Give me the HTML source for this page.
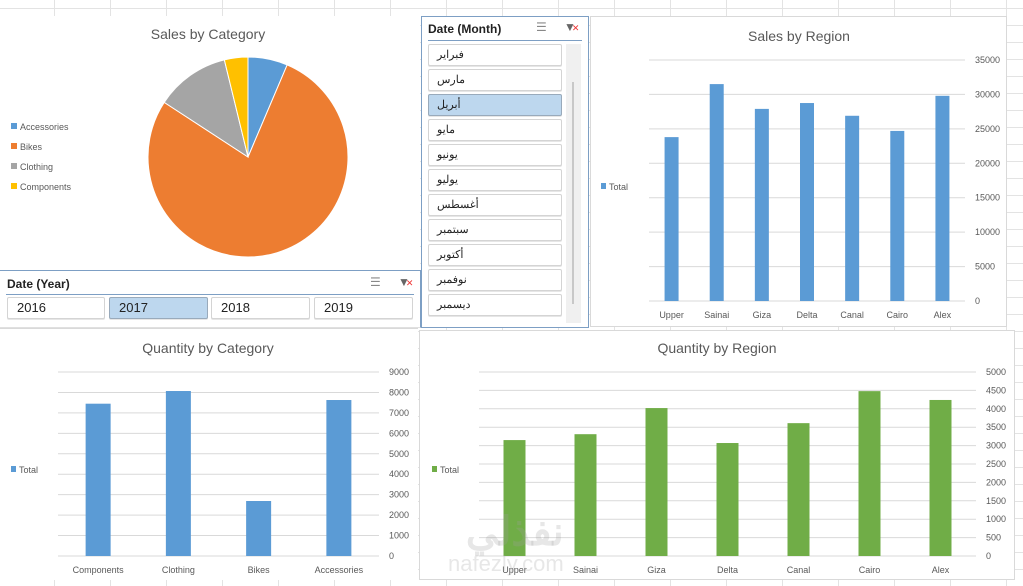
<!DOCTYPE html>
<html><head><meta charset="utf-8">
<style>
*{margin:0;padding:0;box-sizing:border-box}
body{width:1023px;height:580px;overflow:hidden;position:relative;font-family:"Liberation Sans","Noto Sans CJK SC",sans-serif;
background-color:#fff;
background-image:linear-gradient(to right,#e3e3e3 1px,transparent 1px),linear-gradient(to bottom,#e3e3e3 1px,transparent 1px);
background-size:56px 17px;background-position:54px 8px}
.panel{position:absolute;background:#fff}
.slicer{position:absolute;background:#fff;border:1px solid #7d9fc4}
.hdr{position:absolute;font-weight:bold;font-size:12px;color:#222}
.btn{position:absolute;border:1px solid #d4d4d4;border-radius:2px;background:#fff;font-size:13px;color:#222;padding-left:9px;line-height:20px;box-shadow:0 1px 0 #e6e6e6}
.btn.sel{background:#bdd7ee;border-color:#9ab}
.ic{position:absolute;font-size:12px;color:#888}
svg text{font-family:"Liberation Sans",sans-serif}
</style></head><body>

<div class="panel" style="left:0;top:16px;width:420px;height:254px">
<svg width="420" height="254">
<text x="208" y="23" font-size="14" fill="#595959" text-anchor="middle">Sales by Category</text>
<g id="pie"></g>
<g id="pieLegend"></g>
</svg>
</div>

<div class="panel" style="left:590px;top:16px;width:417px;height:311px;border:1px solid #d9d9d9">
<svg id="sr" width="417" height="311"></svg>
</div>

<div class="panel" style="left:0;top:328px;width:418px;height:252px;border-top:1px solid #d9d9d9">
<svg id="qc" width="418" height="252"></svg>
</div>

<div class="panel" style="left:419px;top:330px;width:596px;height:250px;border:1px solid #d9d9d9">
<svg id="qr" width="596" height="250"></svg>
</div>

<div class="slicer" style="left:421px;top:16px;width:168px;height:312px">
<div class="hdr" style="left:6px;top:5px">Date (Month)</div>
<div class="ic" style="left:114px;top:3px">☰</div>
<div class="ic" style="left:142px;top:3px;color:#666">▼<span style="color:#e33;font-size:9px;margin-left:-4px">✕</span></div>
<div style="position:absolute;left:6px;top:23px;width:154px;height:1px;background:#7d9fc4"></div>
<div style="position:absolute;left:144px;top:27px;width:15px;height:279px;background:#f0f0f0"><div style="position:absolute;left:6px;top:38px;width:2px;height:222px;background:#c8c8c8"></div></div>
<div id="months"></div>
</div>

<div class="slicer" style="left:-1px;top:270px;width:422px;height:58px;border-bottom-color:#e0e0e0">
<div class="hdr" style="left:7px;top:6px">Date (Year)</div>
<div class="ic" style="left:370px;top:4px">☰</div>
<div class="ic" style="left:398px;top:4px;color:#666">▼<span style="color:#e33;font-size:9px;margin-left:-4px">✕</span></div>
<div style="position:absolute;left:6px;top:23px;width:408px;height:1px;background:#7d9fc4"></div>
<div class="btn" style="left:7px;top:26px;width:98px;height:22px">2016</div>
<div class="btn sel" style="left:109px;top:26px;width:99px;height:22px">2017</div>
<div class="btn" style="left:211px;top:26px;width:99px;height:22px">2018</div>
<div class="btn" style="left:314px;top:26px;width:99px;height:22px">2019</div>
</div>

<div style="position:absolute;left:448px;top:510px;color:rgba(160,160,160,0.25);font-weight:bold;pointer-events:none">
<div style="font-size:40px;line-height:44px;font-family:'Liberation Sans','Noto Sans CJK SC',sans-serif;direction:rtl">نفذلي</div>
<div style="font-size:22px;line-height:20px;font-weight:normal">nafezly.com</div>
</div>

<script>
const NS='http://www.w3.org/2000/svg';
function mk(p,t,a,txt){const e=document.createElementNS(NS,t);for(const k in a)e.setAttribute(k,a[k]);if(txt!==undefined)e.textContent=txt;p.appendChild(e);return e;}

const pieCats=['Accessories','Bikes','Clothing','Components'];
const pieVals=[6.4,77.8,12.0,3.8];
const pieColors=['#5b9bd5','#ed7d31','#a5a5a5','#ffc000'];
(function(){
 const g=document.getElementById('pie');const cx=248,cy=141,r=100;
 const tot=pieVals.reduce((a,b)=>a+b,0);let a0=0;
 pieVals.forEach((v,i)=>{const a1=a0+v/tot*Math.PI*2;
  const x0=cx+r*Math.sin(a0),y0=cy-r*Math.cos(a0),x1=cx+r*Math.sin(a1),y1=cy-r*Math.cos(a1);
  const p=mk(g,'path',{d:`M${cx},${cy}L${x0},${y0}A${r},${r} 0 ${a1-a0>Math.PI?1:0} 1 ${x1},${y1}Z`,fill:pieColors[i],stroke:'#fff','stroke-width':1});
  
  
  a0=a1;});
 const lg=document.getElementById('pieLegend');
 pieCats.forEach((c,i)=>{const y=111+i*20;
  const e=mk(lg,'g',{});
  
  
  mk(e,'rect',{x:11,y:y-4,width:6,height:6,fill:pieColors[i]});
  mk(e,'text',{x:20,y:y+3,'font-size':9,fill:'#595959'},c);});
})();

const months=['فبراير','مارس','أبريل','مايو','يونيو','يوليو','أغسطس','سبتمبر','أكتوبر','نوفمبر','ديسمبر'];
(function(){const c=document.getElementById('months');
 months.forEach((m,i)=>{const d=document.createElement('div');d.className='btn'+(i===2?' sel':'');
  d.style.cssText=`left:6px;top:${27+i*25}px;width:134px;height:22px;text-align:left;padding-left:8px;font-size:11px;line-height:21px`;
  d.innerHTML='<span style="unicode-bidi:isolate;direction:rtl">'+m+'</span>';
  
  
  c.appendChild(d);});})();

function bar(svgId,o){
 const s=document.getElementById(svgId);
 const t=mk(s,'text',{x:o.tx,y:o.ty,'font-size':14,fill:'#595959','text-anchor':'middle'},o.title);
 
 
 const y=v=>o.y0-(v/o.max)*(o.y0-o.y1);
 const step=(o.x1-o.x0)/o.cats.length;
 o.ticks.forEach(tv=>{
  mk(s,'line',{x1:o.x0,x2:o.x1,y1:y(tv),y2:y(tv),stroke:'#d9d9d9','stroke-width':1});
  const l=mk(s,'text',{x:o.lx,y:y(tv)+3,'font-size':9,fill:'#595959'},String(tv));
  
  
 });
 o.vals.forEach((v,i)=>{const cx=o.x0+step*(i+0.5);
  const r=mk(s,'rect',{x:cx-o.bw/2,y:y(v),width:o.bw,height:o.y0-y(v),fill:o.color});
  
  
  const l=mk(s,'text',{x:cx,y:o.y0+17,'font-size':9,fill:'#595959','text-anchor':'middle'},o.cats[i]);
  
  
 });
 const lg=mk(s,'g',{});
 
 
 mk(lg,'rect',{x:o.legx,y:o.legy-4,width:5,height:6,fill:o.color});
 mk(lg,'text',{x:o.legx+8,y:o.legy+3,'font-size':9,fill:'#595959'},'Total');
}

const srCats=['Upper','Sainai','Giza','Delta','Canal','Cairo','Alex'];
const srVals=[23800,31500,27900,28750,26900,24700,29800];
const srTicks=[0,5000,10000,15000,20000,25000,30000,35000];
bar('sr',{title:'Sales by Region',tx:208,ty:24,cats:srCats,vals:srVals,ticks:srTicks,max:35000,x0:58,x1:374,y0:284,y1:43,bw:14,lx:384,color:'#5b9bd5',legx:10,legy:170});

const qcCats=['Components','Clothing','Bikes','Accessories'];
const qcVals=[7450,8070,2690,7630];
const qcTicks=[0,1000,2000,3000,4000,5000,6000,7000,8000,9000];
bar('qc',{title:'Quantity by Category',tx:208,ty:24,cats:qcCats,vals:qcVals,ticks:qcTicks,max:9000,x0:58,x1:379,y0:227,y1:43,bw:25,lx:389,color:'#5b9bd5',legx:11,legy:141});

const qrCats=['Upper','Sainai','Giza','Delta','Canal','Cairo','Alex'];
const qrVals=[3150,3310,4020,3070,3610,4480,4240];
const qrTicks=[0,500,1000,1500,2000,2500,3000,3500,4000,4500,5000];
bar('qr',{title:'Quantity by Region',tx:297,ty:22,cats:qrCats,vals:qrVals,ticks:qrTicks,max:5000,x0:59,x1:556,y0:225,y1:41,bw:22,lx:566,color:'#70ad47',legx:12,legy:139});
</script>
</body></html>
